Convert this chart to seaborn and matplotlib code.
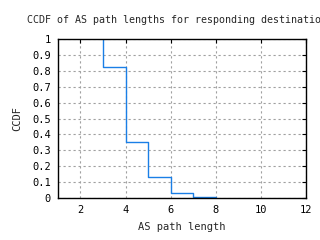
import matplotlib as mpl
mpl.use('Agg')
import matplotlib.pyplot as plt
import numpy as np
import pandas as pd
import seaborn as sns

# AS path length CCDF (step values)
path_len = [3, 4, 5, 6, 7, 8]
ccdf = [1.0, 0.824, 0.353, 0.132, 0.03, 0.006]

x_ticks = [2, 4, 6, 8, 10, 12]
y_ticks = [0, 0.1, 0.2, 0.3, 0.4, 0.5, 0.6, 0.7, 0.8, 0.9, 1]
y_ticklabels = ['0', '0.1', '0.2', '0.3', '0.4', '0.5', '0.6', '0.7', '0.8', '0.9', '1']

sns.set_style('white')
plt.rcParams.update({'font.family': ['DejaVu Sans Mono'],
                     'font.size': 7.5})

df = pd.DataFrame({'path_len': path_len, 'ccdf': ccdf})

fig = plt.figure(figsize=(3.2, 2.4), dpi=100)
ax = fig.add_axes([0.181, 0.175, 0.775, 0.662])

sns.lineplot(data=df, x='path_len', y='ccdf', ax=ax, drawstyle='steps-pre',
             color='#1a7fe6', linewidth=1.0)

ax.set_xlim(1, 12)
ax.set_ylim(0, 1)
ax.set_xticks(x_ticks)
ax.set_yticks(y_ticks)
ax.set_yticklabels(y_ticklabels)
ax.grid(True, color='#a0a0a0', linestyle=(0, (2, 2.5)), linewidth=0.8)
ax.tick_params(direction='in', length=3, width=0.8, top=True, right=True,
               labelsize=7.5, pad=5, colors='black')
for s in ax.spines.values():
    s.set_color('black')
    s.set_linewidth(1.0)

ax.set_xlabel('AS path length', fontsize=7.5, labelpad=5)
ax.set_ylabel('CCDF', fontsize=7.5, labelpad=7)
# title is clipped by the right edge, as in the original
fig.text(27 / 320, 1 - 20 / 240, 'CCDF of AS path lengths for responding destinations',
         ha='left', va='center', fontsize=7.2)

fig.savefig('out.png', dpi=100)
